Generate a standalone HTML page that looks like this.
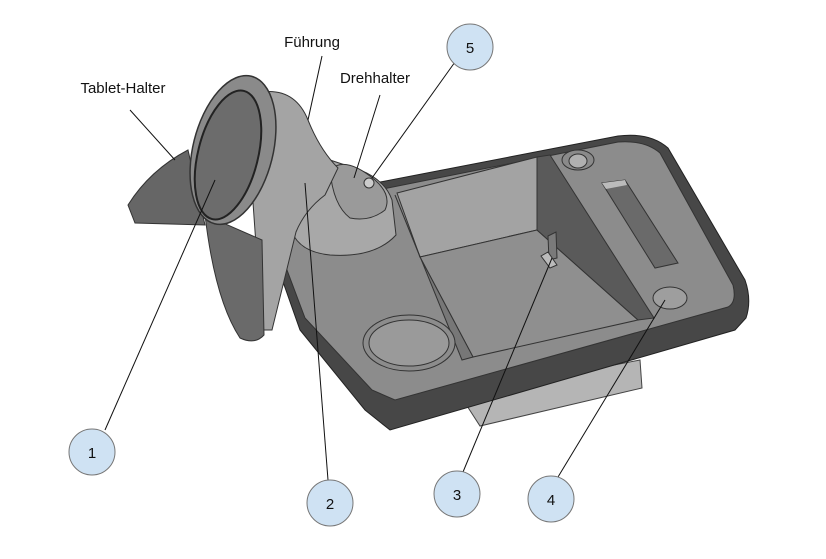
<!DOCTYPE html>
<html><head><style>body{margin:0;background:#fff}svg{display:block}</style></head><body>
<svg width="826" height="559" viewBox="0 0 826 559" xmlns="http://www.w3.org/2000/svg" font-family="Liberation Sans, sans-serif">
<rect width="826" height="559" fill="#fff"/>
<!-- lower box -->
<polygon points="460,395 640,360 642,388 480,426" fill="#b5b5b5" stroke="#444"/>
<!-- tray outer (dark rim) -->
<path d="M282,222 L375,183 L618,136 Q650,132 668,148 L745,280 Q752,300 746,318 L735,330 L390,430 L365,410 L300,330 L276,262Z" fill="#474747" stroke="#222"/>
<!-- tray top surface -->
<path d="M288,222 L378,190 L618,142 Q645,140 660,153 L733,285 Q737,302 728,307 L395,400 L372,390 L305,318 L284,262Z" fill="#8c8c8c" stroke="#333"/>
<!-- cavity back wall -->
<polygon points="397,193 537,157 537,230 420,257" fill="#a3a3a3" stroke="#333"/>
<!-- floor -->
<polygon points="420,257 537,230 638,320 473,357" fill="#8f8f8f" stroke="#333"/>
<!-- left wall -->
<polygon points="395,195 420,257 473,357 462,360" fill="#777" stroke="#333"/>
<!-- right wall dark -->
<polygon points="537,157 550,155 654,318 638,320 537,230" fill="#5a5a5a" stroke="#333"/>
<!-- slot -->
<polygon points="602,183 625,180 678,263 655,268" fill="#6a6a6a" stroke="#333"/>
<polygon points="602,183 625,180 627,185 606,189" fill="#bbb"/>
<!-- tab 3 -->
<polygon points="548,236 556,232 557,258 549,260" fill="#7a7a7a" stroke="#333"/>
<polygon points="541,256 548,252 557,265 550,268" fill="#bbb" stroke="#333"/>
<!-- circles -->
<ellipse cx="578" cy="160" rx="16" ry="10" fill="#8a8a8a" stroke="#333"/>
<ellipse cx="578" cy="161" rx="9" ry="7" fill="#b0b0b0" stroke="#333"/>
<ellipse cx="670" cy="298" rx="17" ry="11" fill="#9e9e9e" stroke="#333"/>
<ellipse cx="409" cy="343" rx="46" ry="28" fill="#8c8c8c" stroke="#333"/>
<ellipse cx="409" cy="343" rx="40" ry="23" fill="#9a9a9a" stroke="#333"/>
<!-- Drehhalter cone -->
<path d="M292,232 Q300,190 330,160 L360,170 Q385,180 392,200 L396,235 Q375,258 330,255 Q300,252 292,232Z" fill="#a8a8a8" stroke="#333"/>
<path d="M330,170 Q345,155 375,180 Q392,195 385,210 Q370,222 350,218 Q333,205 330,170Z" fill="#9a9a9a" stroke="#333"/>
<circle cx="369" cy="183" r="5" fill="#ccc" stroke="#333"/>
<!-- Führung arm -->
<path d="M262,92 Q295,88 308,120 Q320,150 338,168 L325,195 Q305,210 296,232 L272,330 L262,330 L250,160Z" fill="#a4a4a4" stroke="#333"/>
<!-- tablet holder wings -->
<path d="M128,205 Q150,170 188,150 L205,225 L135,223Z" fill="#666" stroke="#333"/>
<path d="M205,215 Q215,300 240,338 Q255,345 264,335 L262,240Z" fill="#6a6a6a" stroke="#333"/>
<!-- tablet plate -->
<ellipse cx="233" cy="150" rx="40" ry="76" transform="rotate(14 233 150)" fill="#8a8a8a" stroke="#333" stroke-width="1.5"/>
<ellipse cx="228" cy="155" rx="30" ry="66" transform="rotate(14 228 155)" fill="#6c6c6c" stroke="#222" stroke-width="2"/>
<!-- leaders -->
<g stroke="#111" stroke-width="1" fill="none">
<line x1="130" y1="110" x2="175" y2="160"/>
<line x1="322" y1="56" x2="308" y2="120"/>
<line x1="380" y1="95" x2="354" y2="178"/>
<line x1="455" y1="62" x2="372" y2="178"/>
<line x1="215" y1="180" x2="105" y2="430"/>
<line x1="305" y1="183" x2="328" y2="480"/>
<line x1="552" y1="258" x2="463" y2="472"/>
<line x1="665" y1="300" x2="558" y2="477"/>
</g>
<g fill="#cfe2f3" stroke="#777" stroke-width="1">
<circle cx="470" cy="47" r="23"/><circle cx="92" cy="452" r="23"/>
<circle cx="330" cy="503" r="23"/><circle cx="457" cy="494" r="23"/>
<circle cx="551" cy="499" r="23"/>
</g>
<g font-size="15" fill="#111" text-anchor="middle">
<text x="470" y="53">5</text><text x="92" y="458">1</text><text x="330" y="509">2</text>
<text x="457" y="500">3</text><text x="551" y="505">4</text>
<text x="312" y="47">Führung</text><text x="123" y="93">Tablet-Halter</text><text x="375" y="83">Drehhalter</text>
</g>
</svg>
</body></html>
